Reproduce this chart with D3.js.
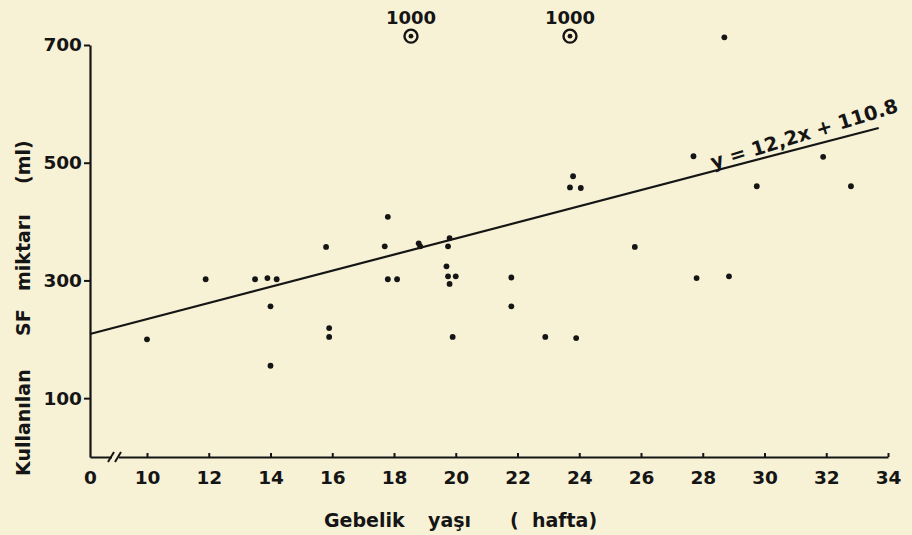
<!DOCTYPE html>
<html>
<head>
<meta charset="utf-8">
<script src="https://cdn.jsdelivr.net/npm/d3@7"></script>
<style>
  body { margin: 0; background: #f7f2d6; }
  svg { display: block; }
  text { font-family: "DejaVu Sans", sans-serif; fill: #151515; }
</style>
</head>
<body>
<svg id="chart" width="912" height="535"></svg>
<script>
// gebelik haftasi ve kullanilan SF miktari (ml)
let haftalar = [10, 11.9, 13.5, 13.9, 14.2, 14, 14, 15.9, 15.9, 15.8,
    17.8, 17.7, 17.8, 18.1, 18.8, 18.85, 19.8, 19.75, 19.7, 19.75, 20.0, 19.8, 19.9,
    21.8, 21.8, 22.9, 23.9, 23.8, 23.7, 24.05, 25.8, 27.7, 27.8, 28.85, 28.7,
    29.75, 31.9, 32.8];
let miktarlar = [200, 302, 302, 304, 302, 256, 155, 219, 204, 357,
    408, 358, 302, 302, 363, 358, 372, 358, 324, 307, 307, 294, 204,
    305, 256, 204, 202, 477, 458, 457, 357, 511, 304, 307, 713,
    460, 510, 460];

// eksen disinda kalan degerler (1000 ml), ust kenarda gosterilir
let uc_haftalar = [18.55, 23.7];
let uc_degerler = ["1000", "1000"];
let uc_cizim_y = 715;

// regresyon dogrusu (resimdeki haliyle uc noktalari)
let dogru_x = [0, 33.7];
let dogru_y = [209, 559];
let denklem = "y = 12,2x + 110.8";

let x_tikler = [0, 10, 12, 14, 16, 18, 20, 22, 24, 26, 28, 30, 32, 34];
let y_tikler = [100, 300, 500, 700];

let svg = d3.select("#chart");

// kirik eksen: 0 ile 10 arasi sikistirildi
let x = d3.scaleLinear()
    .domain([0, 10, 34])
    .range([90, 147, 888]);

let y = d3.scaleLinear()
    .domain([0, 700])
    .range([457, 45]);

// x ekseni
let xEkseni = svg.append("g")
    .attr("transform", "translate(0," + y(0) + ")")
    .call(d3.axisBottom(x)
        .tickValues(x_tikler)
        .tickSizeInner(-4)
        .tickSizeOuter(0)
        .tickPadding(14)
        .tickFormat(d3.format("d")));

xEkseni.select(".domain").attr("stroke", "#151515").attr("stroke-width", 2.2);
xEkseni.selectAll(".tick line").attr("stroke", "#151515").attr("stroke-width", 2);
xEkseni.selectAll(".tick text")
    .attr("font-size", 18.5)
    .attr("font-weight", "bold")
    .attr("font-family", "DejaVu Sans")
    .attr("fill", "#151515");
xEkseni.select(".tick line").remove();

// eksen kirigi //
let kirik = xEkseni.append("g");
kirik.append("rect")
    .attr("x", 112).attr("y", -3)
    .attr("width", 7).attr("height", 6)
    .attr("fill", "#f7f2d6");
[111, 118].forEach(function(px){
    kirik.append("line")
        .attr("x1", px - 3).attr("y1", 5)
        .attr("x2", px + 3).attr("y2", -5)
        .attr("stroke", "#151515")
        .attr("stroke-width", 2);
});

// y ekseni
let yEkseni = svg.append("g")
    .attr("transform", "translate(" + x(0) + ",0)")
    .call(d3.axisLeft(y)
        .tickValues(y_tikler)
        .tickSizeInner(6)
        .tickSizeOuter(0)
        .tickPadding(2));

yEkseni.select(".domain").attr("stroke", "#151515").attr("stroke-width", 2.2);
yEkseni.selectAll(".tick line").attr("stroke", "#151515").attr("stroke-width", 2);
yEkseni.selectAll(".tick text")
    .attr("font-size", 18.5)
    .attr("font-weight", "bold")
    .attr("font-family", "DejaVu Sans")
    .attr("fill", "#151515");

// regresyon dogrusu
svg.append("line")
    .attr("x1", x(dogru_x[0])).attr("y1", y(dogru_y[0]))
    .attr("x2", x(dogru_x[1])).attr("y2", y(dogru_y[1]))
    .attr("stroke", "#151515")
    .attr("stroke-width", 2.2);

// denklem, dogru boyunca
let aci = Math.atan2(y(dogru_y[1]) - y(dogru_y[0]), x(dogru_x[1]) - x(dogru_x[0])) * 180 / Math.PI;
svg.append("text")
    .attr("transform", "translate(713,169) rotate(" + (aci - 2.5) + ")")
    .attr("font-size", 19.5)
    .attr("font-weight", 600)
    .text(denklem);

// noktalar
svg.append("g")
    .selectAll("circle")
    .data(haftalar)
    .enter()
    .append("circle")
    .attr("cx", function(d){ return x(d); })
    .attr("cy", function(d, i){ return y(miktarlar[i]); })
    .attr("r", 2.9)
    .attr("fill", "#151515");

// 1000 ml noktalari
let uc = svg.append("g")
    .selectAll("g")
    .data(uc_haftalar)
    .enter()
    .append("g")
    .attr("transform", function(d){ return "translate(" + x(d) + "," + y(uc_cizim_y) + ")"; });

uc.append("circle")
    .attr("r", 6.5)
    .attr("fill", "none")
    .attr("stroke", "#151515")
    .attr("stroke-width", 2.4);
uc.append("circle")
    .attr("r", 2.4)
    .attr("fill", "#151515");
uc.append("text")
    .attr("y", -12)
    .attr("text-anchor", "middle")
    .attr("font-size", 18)
    .attr("font-family", "DejaVu Sans Condensed")
    .attr("font-weight", "bold")
    .text(function(d, i){ return uc_degerler[i]; });

// eksen basliklari
let xBaslik = svg.append("text")
    .attr("y", 527)
    .attr("font-size", 19)
    .attr("font-weight", "bold");
xBaslik.append("tspan").attr("x", 324).text("Gebelik");
xBaslik.append("tspan").attr("x", 428).text("yaşı");
xBaslik.append("tspan").attr("x", 510).text("(\u00a0\u00a0hafta)");

let yBaslik = svg.append("text")
    .attr("transform", "translate(30,0) rotate(-90)")
    .attr("font-size", 19)
    .attr("font-weight", "bold");
yBaslik.append("tspan").attr("x", -476).text("Kullanılan");
yBaslik.append("tspan").attr("x", -336).text("SF");
yBaslik.append("tspan").attr("x", -291).text("miktarı");
yBaslik.append("tspan").attr("x", -184).text("(ml)");
</script>
</body>
</html>
